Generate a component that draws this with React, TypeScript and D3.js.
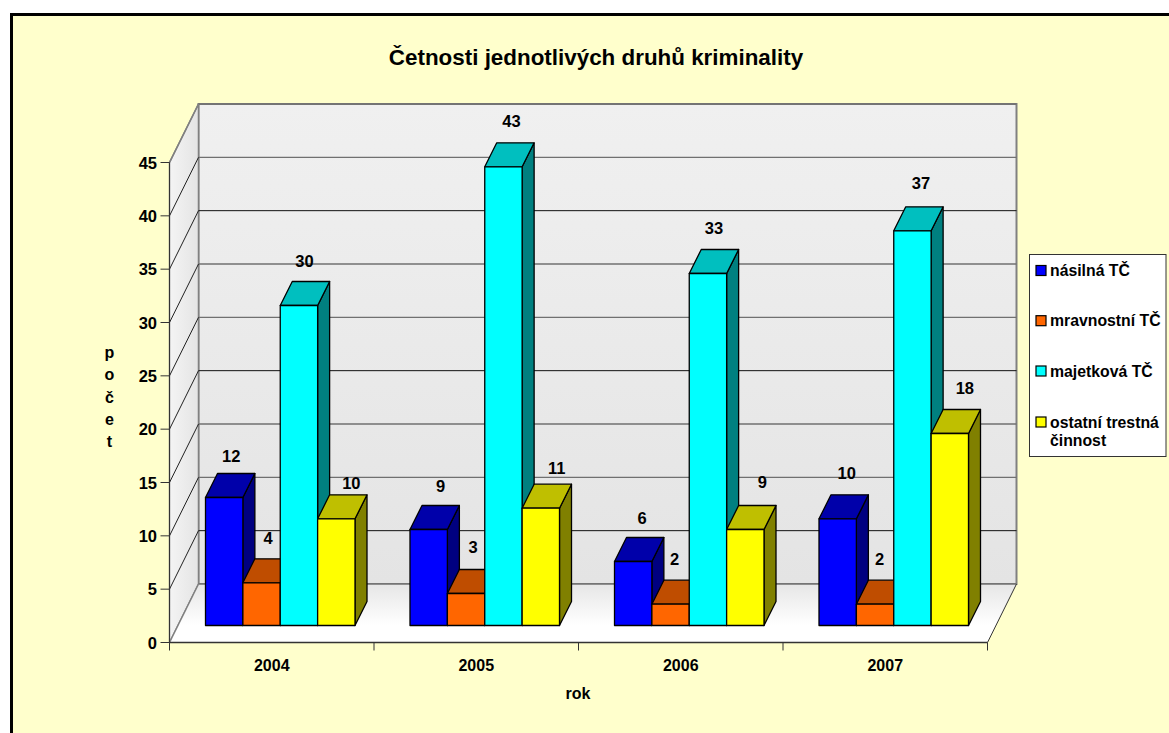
import React from "react";
import * as d3 from "d3";

const years = ["2004", "2005", "2006", "2007"];
const seriesNames = ["násilná TČ", "mravnostní TČ", "majetková TČ", "ostatní trestná činnost"];
const violent = [12, 9, 6, 10];
const moral = [4, 3, 2, 2];
const property = [30, 43, 33, 37];
const other = [10, 11, 9, 18];
const seriesValues = [violent, moral, property, other];
const frontColors = ["#0000FF", "#FF6600", "#00FFFF", "#FFFF00"];
const topColors = ["#0000AA", "#BF4D00", "#00BFBF", "#BFBF00"];
const sideColors = ["#000080", "#803300", "#008080", "#808000"];
const yTicks = d3.range(0, 50, 5);
const labelFont = "'Liberation Sans', Arial, sans-serif";
const labelNudgeX = [[7, 12, 9, 9], [6.5, 7, 4, 4.5], [5.5, 8, 6, 8.5], [15, 16, 17, 15]];
const labelNudgeY = [[-42, -44, -44, -46], [-45, -47, -45, -45], [-45, -46, -46, -48], [-36, -40, -48, -46]];

const x = d3.scaleBand<string>().domain(years).range([169.5, 987.5]);
const y = d3.scaleLinear().domain([0, 45]).range([642.5, 162.5]);
const unit = y(0) - y(1);
const wall = { dx: 29, dy: -58.5 };
const barPlane = { dx: 8, dy: -17 };
const barDepth = { dx: 12, dy: -24 };
const inner = d3.scaleBand<number>().domain([0, 1, 2, 3]).range([36, 185.5]);

const poly = (pts: number[][]) => d3.line()(pts as [number, number][]) + "Z";

function Bar({ yi, si }: { yi: number; si: number }) {
  const v = seriesValues[si][yi];
  const l = x(years[yi])! + inner(si)!;
  const r = l + inner.bandwidth();
  const b = y(0) + barPlane.dy;
  const t = b - v * unit;
  const { dx, dy } = barDepth;
  const s = { stroke: "#000", strokeWidth: 1.3, strokeLinejoin: "round" as const };
  return (
    <g>
      <path d={poly([[r, b], [r + dx, b + dy], [r + dx, t + dy], [r, t]])} fill={sideColors[si]} {...s} />
      <path d={poly([[l, t], [l + dx, t + dy], [r + dx, t + dy], [r, t]])} fill={topColors[si]} {...s} />
      <rect x={l} y={t} width={r - l} height={b - t} fill={frontColors[si]} {...s} />
    </g>
  );
}

export default function App() {
  const x0 = x.range()[0];
  const x1 = x.range()[1];
  const legendY = [270.5, 320.7, 371, 422];
  return (
    <svg
      width={1169}
      height={733}
      style={{ position: "absolute", left: 0, top: 0, fontFamily: labelFont, fontWeight: 700 }}
    >
      <defs>
        <linearGradient id="wallG" x1="0" y1="0" x2="0" y2="1">
          <stop offset="0" stopColor="#F0F0F0" />
          <stop offset="1" stopColor="#E4E4E4" />
        </linearGradient>
        <linearGradient id="sideG" x1="0" y1="0" x2="1" y2="0">
          <stop offset="0" stopColor="#F4F4F4" />
          <stop offset="1" stopColor="#E4E4E4" />
        </linearGradient>
        <linearGradient id="floorG" x1="0" y1="0" x2="0" y2="1">
          <stop offset="0" stopColor="#E6E6E6" />
          <stop offset="0.7" stopColor="#FFFFFF" />
          <stop offset="1" stopColor="#FFFFFF" />
        </linearGradient>
      </defs>
      <rect x={0} y={0} width={1169} height={733} fill="#fff" />
      <rect x={11.5} y={14.5} width={1200} height={800} fill="#FFFFCC" stroke="#000" strokeWidth={3} />

      <text x={596} y={65} textAnchor="middle" fontSize={22.4} fill="#000">Četnosti jednotlivých druhů kriminality</text>

      {/* walls */}
      <rect x={x0 + wall.dx} y={y(45) + wall.dy} width={x1 - x0} height={y(0) - y(45)} fill="url(#wallG)" stroke="#808080" strokeWidth={2} />
      <path d={poly([[x0, y(0)], [x0, y(45)], [x0 + wall.dx, y(45) + wall.dy], [x0 + wall.dx, y(0) + wall.dy]])} fill="url(#sideG)" stroke="#808080" strokeWidth={1.5} />
      <path d={poly([[x0, y(0)], [x0 + wall.dx, y(0) + wall.dy], [x1 + wall.dx, y(0) + wall.dy], [x1, y(0)]])} fill="url(#floorG)" />
      {yTicks.map((t) => {
        const dark = t % 15 === 5;
        const c = dark ? "#111" : "#707070";
        return (
          <g key={t}>
            <line x1={x0 + wall.dx} x2={x1 + wall.dx} y1={y(t) + wall.dy} y2={y(t) + wall.dy} stroke={c} strokeWidth={dark ? 1 : 1.4} />
            {t > 0 && t < 45 && (
              <line x1={x0} x2={x0 + wall.dx} y1={y(t)} y2={y(t) + wall.dy} stroke="#222" strokeWidth={1} />
            )}
          </g>
        );
      })}
      <line x1={x0} x2={x0 + wall.dx} y1={y(0)} y2={y(0) + wall.dy} stroke="#808080" strokeWidth={1.5} />
      <line x1={x0} x2={x0 + wall.dx} y1={y(45)} y2={y(45) + wall.dy} stroke="#808080" strokeWidth={1.5} />
      <line x1={x1} x2={x1 + wall.dx} y1={y(0)} y2={y(0) + wall.dy} stroke="#333" strokeWidth={1} />

      {/* axes */}
      <line x1={x0} x2={x0} y1={y(45)} y2={y(0)} stroke="#333" strokeWidth={1} />
      <line x1={x0} x2={x1} y1={y(0)} y2={y(0)} stroke="#333" strokeWidth={1.3} />
      {yTicks.map((t) => (
        <g key={t}>
          <line x1={x0 - 9} x2={x0} y1={y(t)} y2={y(t)} stroke="#333" />
          <text x={x0 - 12.5} y={y(t) + 6} textAnchor="end" fontSize={16.5} fill="#000">{t}</text>
        </g>
      ))}
      {[...years.map((d) => x(d)!), x1].map((p) => (
        <line key={p} x1={p} x2={p} y1={y(0)} y2={y(0) + 8} stroke="#333" />
      ))}
      {years.map((d) => (
        <text key={d} x={x(d)! + x.bandwidth() / 2} y={671} textAnchor="middle" fontSize={16} fill="#000">{d}</text>
      ))}
      <text x={578} y={699} textAnchor="middle" fontSize={16} fill="#000">rok</text>
      {Array.from("počet").map((ch, i) => (
        <text key={i} x={109.5} y={358 + i * 22.3} textAnchor="middle" fontSize={16} fill="#000">{ch}</text>
      ))}

      {/* bars */}
      {years.map((_, yi) => (
        <g key={yi}>
          {seriesValues.map((_s, si) => <Bar key={si} yi={yi} si={si} />)}
        </g>
      ))}
      {years.map((yr, yi) =>
        seriesValues.map((vals, si) => {
          const cx = x(yr)! + inner(si)! + inner.bandwidth() / 2;
          const top = y(0) + barPlane.dy - vals[yi] * unit;
          return (
            <text key={si} x={cx + labelNudgeX[si][yi]} y={top + labelNudgeY[si][yi] + 6} textAnchor="middle" fontSize={16.5} fill="#000">{vals[yi]}</text>
          );
        })
      )}

      {/* legend */}
      <rect x={1029.5} y={254.5} width={136.5} height={202} fill="#fff" stroke="#333" strokeWidth={1} />
      {seriesNames.map((n, i) => {
        const parts = i === 3 ? ["ostatní trestná", "činnost"] : [n];
        return (
          <g key={n}>
            <rect x={1036} y={legendY[i] - 5} width={10} height={10} fill={frontColors[i]} stroke="#000" strokeWidth={1.2} />
            {parts.map((p, j) => (
              <text key={p} x={1050} y={legendY[i] + 5.5 + j * 18} fontSize={15.8} fill="#000">{p}</text>
            ))}
          </g>
        );
      })}
    </svg>
  );
}
